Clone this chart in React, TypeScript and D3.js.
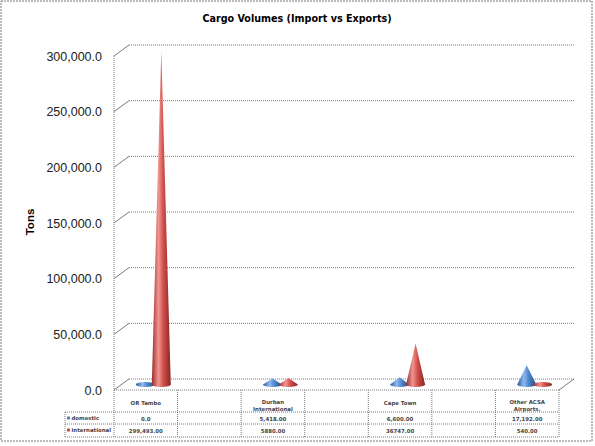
import React from "react";
import * as d3 from "d3";

const categories = ["OR Tambo", "", "Durban International", "", "Cape Town", "", "Other ACSA Airports."];
const headerLines = [["OR Tambo"], [], ["Durban", "International"], [], ["Cape Town"], [], ["Other ACSA", "Airports."]];
const seriesNames = ["domestic", "international"];
const domestic = [0, null, 5418, null, 6600, null, 17192];
const international = [299493, null, 5880, null, 36747, null, 540];
const domesticLabels = ["0.0", "", "5,418.00", "", "6,600.00", "", "17,192.00"];
const internationalLabels = ["299,493.00", "", "5880.00", "", "36747.00", "", "540.00"];
const yTicks = [0, 50000, 100000, 150000, 200000, 250000, 300000];

const W = 595;
const H = 446;
const left = 114;
const right = 559;
const floorY = 390;
const topY = 56;
const depthX = 15;
const depthY = -11;
const legendLeft = 65;
const rowTops = [390, 412, 424, 437];

const colors = ["blue", "red"];
const seriesValues = [domestic, international];
const seriesLabels = [domesticLabels, internationalLabels];

const App: React.FC = () => {
  const x = d3.scaleBand<string>().domain(categories.map((c, i) => String(i))).range([left, right]).padding(0);
  const y = d3.scaleLinear().domain([0, 300000]).range([floorY, topY]);
  const fmt = d3.format(",.1f");

  const grey = "#7a7a7a";
  const dots = "1,1";
  const half = { x: depthX / 2, y: depthY / 2 };
  const r = 9.5;
  const ry = 2.6;

  const cone = (cx: number, baseY: number, tipY: number) => {
    const p = d3.path();
    p.moveTo(cx - r, baseY);
    p.lineTo(cx, tipY);
    p.lineTo(cx + r, baseY);
    return `${p.toString()} A ${r} ${ry} 0 0 1 ${cx - r} ${baseY} Z`;
  };

  return (
    <svg width={W} height={H} style={{ position: "absolute", left: 0, top: 0, background: "#fff" }}>
      <defs>
        <linearGradient id="blue" x1="0" x2="1" y1="0" y2="0">
          <stop offset="0" stopColor="#2a5a96" />
          <stop offset="0.35" stopColor="#8dbaf0" />
          <stop offset="0.6" stopColor="#4f86cc" />
          <stop offset="1" stopColor="#214e86" />
        </linearGradient>
        <linearGradient id="red" x1="0" x2="1" y1="0" y2="0">
          <stop offset="0" stopColor="#9a2c29" />
          <stop offset="0.35" stopColor="#f29591" />
          <stop offset="0.6" stopColor="#d0504c" />
          <stop offset="1" stopColor="#8a2422" />
        </linearGradient>
      </defs>
      <rect x={1} y={1} width={591} height={440} fill="#fff" stroke="#777" strokeDasharray="2,1" />

      <text x={297} y={22} textAnchor="middle" fontFamily="DejaVu Sans" fontWeight="bold" fontSize={9.6} fill="#000">
        Cargo Volumes (Import vs Exports)
      </text>

      {/* walls and gridlines */}
      {yTicks.map((t) => (
        <g key={t}>
          <line x1={left} y1={y(t)} x2={left + depthX} y2={y(t) + depthY} stroke={grey} />
          <line x1={left + depthX} y1={y(t) + depthY} x2={right + depthX} y2={y(t) + depthY} stroke={grey} strokeDasharray={dots} />
          <text x={102} y={y(t) + 4.5} textAnchor="end" fontFamily="Liberation Sans" fontSize={12.5} fill="#222">
            {fmt(t)}
          </text>
        </g>
      ))}
      <line x1={left} y1={y(300000)} x2={left} y2={floorY} stroke={grey} strokeDasharray={dots} />
      <line x1={right} y1={floorY} x2={right + depthX} y2={floorY + depthY} stroke={grey} />

      <text transform="translate(34,222) rotate(-90)" textAnchor="middle" fontFamily="Liberation Sans" fontWeight="bold" fontSize={11.5} fill="#000">
        Tons
      </text>

      {/* cones */}
      {categories.map((c, i) =>
        seriesValues.map((vals, s) => {
          const v = vals[i];
          if (v === null) return null;
          const cx = x(String(i))! + x.bandwidth() / 2 + (s === 0 ? -8 : 8) + half.x;
          const baseY = y(0) + half.y;
          const tipY = y(v) + half.y;
          if (baseY - tipY < 2) {
            return <ellipse key={`${i}-${s}`} cx={cx} cy={baseY} rx={r} ry={ry} fill={`url(#${colors[s]})`} />;
          }
          return <path key={`${i}-${s}`} d={cone(cx, baseY, tipY)} fill={`url(#${colors[s]})`} />;
        })
      )}

      {/* data table */}
      <line x1={left} y1={rowTops[0]} x2={right} y2={rowTops[0]} stroke={grey} strokeDasharray={dots} />
      {rowTops.slice(1).map((ty) => (
        <line key={ty} x1={legendLeft} y1={ty} x2={right} y2={ty} stroke={grey} strokeDasharray={dots} />
      ))}
      <line x1={legendLeft} y1={rowTops[1]} x2={legendLeft} y2={rowTops[3]} stroke={grey} strokeDasharray={dots} />
      {categories.map((c, i) => (
        <line key={i} x1={x(String(i))!} y1={rowTops[0]} x2={x(String(i))!} y2={rowTops[3]} stroke={grey} strokeDasharray={dots} />
      ))}
      <line x1={right} y1={rowTops[0]} x2={right} y2={rowTops[3]} stroke={grey} strokeDasharray={dots} />

      {headerLines.map((lines, i) => {
        const cx = x(String(i))! + x.bandwidth() / 2;
        const base = lines.length > 1 ? 403.5 : 405;
        return lines.map((ln, k) => (
          <text key={`${i}-${k}`} x={cx} y={base + k * 7.5} textAnchor="middle" fontFamily="DejaVu Sans" fontWeight="bold" fontSize={5.4} fill="#444">
            {ln}
          </text>
        ));
      })}

      {seriesNames.map((name, s) => (
        <g key={name}>
          <rect x={67} y={rowTops[s + 1] + 4.5} width={3} height={3} fill={s === 0 ? "#4f81bd" : "#c0504d"} />
          <text x={71.5} y={rowTops[s + 1] + 8} fontFamily="DejaVu Sans" fontWeight="bold" fontSize={5.4} fill="#444">
            {name}
          </text>
          {seriesLabels[s].map((lab, i) => (
            <text key={i} x={x(String(i))! + x.bandwidth() / 2} y={rowTops[s + 1] + 8.5} textAnchor="middle" fontFamily="DejaVu Sans" fontWeight="bold" fontSize={5.4} fill="#444">
              {lab}
            </text>
          ))}
        </g>
      ))}
    </svg>
  );
};

export default App;
